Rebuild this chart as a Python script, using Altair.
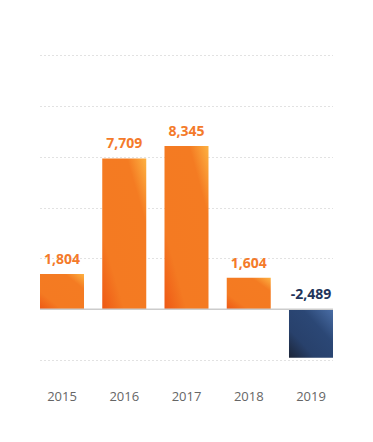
import altair as alt
import pandas as pd

years = ["2015", "2016", "2017", "2018", "2019"]
values = [1804, 7709, 8345, 1604, -2489]
grid_ticks = [-2600, 0, 2600, 5200, 7800, 10400, 13000]

df = pd.DataFrame({"year": years, "value": values})
df["label_y"] = df["value"].clip(lower=0)
df["label"] = df["value"].map(lambda v: f"{v:,}")

orange_grad = alt.Gradient(
    gradient="linear", x1=1, y1=0, x2=0, y2=1,
    stops=[alt.GradientStop(offset=0, color="#fdb242"),
           alt.GradientStop(offset=0.22, color="#f47b22"),
           alt.GradientStop(offset=0.75, color="#f47a22"),
           alt.GradientStop(offset=1, color="#ee5815")])
navy_grad = alt.Gradient(
    gradient="linear", x1=1, y1=0, x2=0, y2=1,
    stops=[alt.GradientStop(offset=0, color="#4a6ea6"),
           alt.GradientStop(offset=0.35, color="#2b4775"),
           alt.GradientStop(offset=0.7, color="#28416c"),
           alt.GradientStop(offset=1, color="#1c2538")])

xenc = alt.X("year:N", sort=years,
             scale=alt.Scale(paddingInner=0.293, paddingOuter=0),
             axis=alt.Axis(title=None, domain=False, ticks=False, labelAngle=0,
                           labelFont="Open Sans", labelFontSize=13,
                           labelColor="#666666", labelPadding=30))
yscale = alt.Scale(domain=[-2600, 13000], nice=False, zero=False)
yenc = alt.Y("value:Q", scale=yscale,
             axis=alt.Axis(title=None, labels=False, ticks=False, domain=False,
                           values=grid_ticks, grid=True, gridColor="#c4c4c4",
                           gridDash=[1, 3], gridWidth=1))

base = alt.Chart(df)

pos = base.transform_filter("datum.value >= 0").mark_bar(color=orange_grad).encode(x=xenc, y=yenc)
neg = base.transform_filter("datum.value < 0").mark_bar(color=navy_grad).encode(
    x=xenc, y=alt.Y("value:Q", scale=yscale))

zero = alt.Chart(pd.DataFrame({"z": [0]})).mark_rule(color="#cccccc", strokeWidth=1.5).encode(
    y=alt.Y("z:Q", scale=yscale))

labels = base.mark_text(font="Open Sans", fontSize=14, fontWeight="bold",
                        baseline="bottom", dy=-7).encode(
    x=alt.X("year:N", sort=years),
    y=alt.Y("label_y:Q", scale=yscale),
    text="label:N",
    color=alt.condition("datum.value < 0", alt.value("#22345a"), alt.value("#f47a2a")))

chart = alt.layer(pos, neg, zero, labels).properties(
    width=293, height=305,
    padding={"left": 32, "top": 47, "right": 0, "bottom": 50},
    autosize=alt.AutoSizeParams(type="none"),
).configure_view(stroke=None)

chart.save("out.html", embed_options={"renderer": "svg", "actions": False})
